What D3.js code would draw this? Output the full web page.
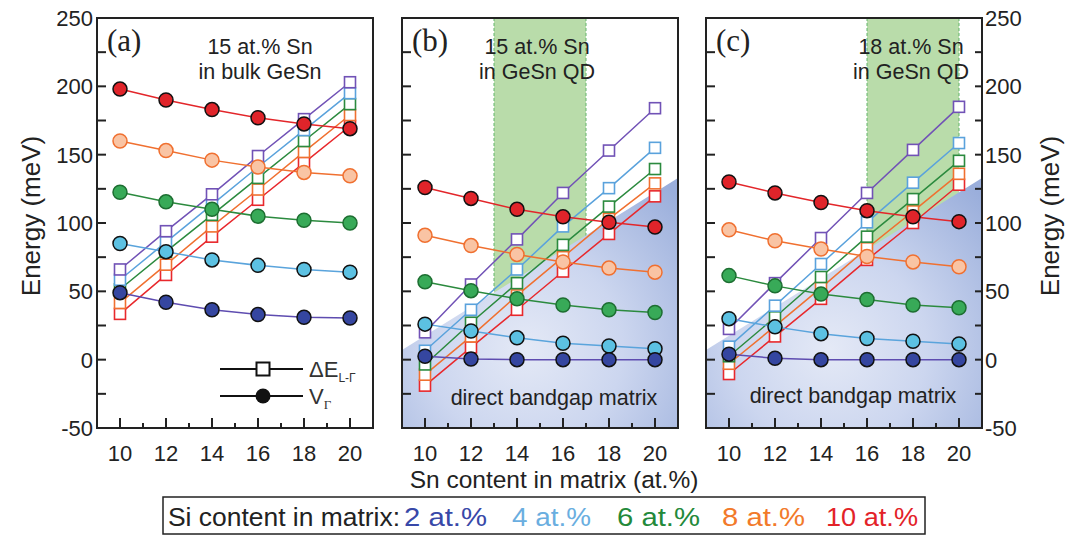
<!DOCTYPE html>
<html><head><meta charset="utf-8">
<script src="https://cdn.jsdelivr.net/npm/d3@7"></script>
<style>body{margin:0;background:#fff}svg{display:block}</style>
</head><body>
<svg id="chart" width="1079" height="535"></svg>
<script>
// Sn content in the matrix (at.%) – shared x values
const snContent = [10, 12, 14, 16, 18, 20];
const siLabels = ["2 at.%", "4 at.%", "6 at.%", "8 at.%", "10 at.%"];
const yTickValues = [-50, 0, 50, 100, 150, 200, 250];
const xTickValues = [10, 12, 14, 16, 18, 20];

// (a) 15 at.% Sn in bulk GeSn — rows: Si 2, 4, 6, 8, 10 at.%
const deltaBulk = [
  [66, 94, 121, 149, 176, 203],
  [58.5, 86, 113.5, 141, 168, 195],
  [51.5, 79, 106, 133, 160, 187],
  [41.5, 69.5, 97.5, 124.5, 152, 179],
  [33.5, 62, 90, 117, 144, 171]
];
const vGammaBulk = [
  [49, 42, 36.5, 33, 31, 30.5],
  [85, 79, 73, 69, 66, 64],
  [122.5, 115.5, 110, 105, 102, 100],
  [160, 153, 146, 141, 137, 134.5],
  [198, 190, 183, 177, 172.5, 169]
];

// (b) 15 at.% Sn in GeSn QD
const deltaQD15 = [
  [20, 55, 88, 122, 153, 184],
  [6.5, 36.5, 66, 97.5, 125.5, 155],
  [-3.5, 27, 56, 84, 112, 139.5],
  [-11, 17, 47, 75, 103, 129],
  [-19, 9, 36.5, 64.5, 92, 119.5]
];
const vGammaQD15 = [
  [2.5, 0.5, 0, 0, 0, 0],
  [26, 21, 16, 12, 10, 8],
  [57, 50.5, 44.5, 40, 36.5, 34.5],
  [91, 83.5, 77, 71.5, 67, 64],
  [126, 118, 110, 104.5, 100.5, 97]
];

// (c) 18 at.% Sn in GeSn QD
const deltaQD18 = [
  [22.5, 56, 89, 122, 153.5, 185],
  [9.5, 39.5, 70, 100.5, 129.5, 158.5],
  [2.5, 31, 60.5, 90, 117.5, 145.5],
  [-3, 24.5, 52.5, 81.5, 108.5, 136],
  [-10.5, 17, 44.5, 73, 100, 128]
];
const vGammaQD18 = [
  [4, 1, 0, 0, 0, 0],
  [30, 24, 19, 15.5, 13.5, 11.5],
  [61.5, 54, 48, 44, 40, 38],
  [95, 87, 81, 75.5, 71.5, 68],
  [130, 122, 115, 109, 104.5, 101]
];

// boundary of the direct-bandgap matrix region (Sn, meV)
const directEdgeSn = [9, 21];
const directEdgeE = [7, 133];
// Sn windows highlighted in green for the QD panels
const windowQD15 = [13, 17];
const windowQD18 = [16, 20];

const lineColors   = ["#5e4cb0", "#5aa4dc", "#2b8a3e", "#f07030", "#e3262a"];
const squareColors = ["#7152b6", "#5aa2dc", "#2b8a3e", "#f07030", "#e8282c"];
const circleFills  = ["#3546a0", "#5cc1e2", "#38aa58", "#f9c4a4", "#e0242a"];
const circleStroke = ["#111", "#111", "#1d6e31", "#f07030", "#111"];
const legendColors = ["#3848a8", "#6aaee0", "#23893a", "#f27a2a", "#e32228"];

const svg = d3.select("#chart");
const font = "'Liberation Sans', Arial, sans-serif";
const plotTop = 18, plotBottom = 428, pw = 276;

const y = d3.scaleLinear().domain([-50, 250]).range([plotBottom, plotTop]);

const panels = [
  { x0: 97, tag: "(a)", delta: deltaBulk, v: vGammaBulk, note: ["15 at.% Sn", "in bulk GeSn"], noteX: 260,
    window: null, direct: false, leftLabels: true, rightAxis: false, legend: true },
  { x0: 402, tag: "(b)", delta: deltaQD15, v: vGammaQD15, note: ["15 at.% Sn", "in GeSn QD"], noteX: 537,
    window: windowQD15, direct: true, directX: 554, directY: 405 },
  { x0: 706, tag: "(c)", delta: deltaQD18, v: vGammaQD18, note: ["18 at.% Sn", "in GeSn QD"], noteX: 911,
    window: windowQD18, direct: true, directX: 853, directY: 403, rightAxis: true }
];

const defs = svg.append("defs");

panels.forEach((p, pi) => {
  const x = d3.scaleLinear().domain([9, 21]).range([p.x0, p.x0 + pw]);
  const g = svg.append("g");

  defs.append("clipPath").attr("id", "clip" + pi)
    .append("rect").attr("x", p.x0).attr("y", plotTop).attr("width", pw).attr("height", plotBottom - plotTop);
  const plot = g.append("g").attr("clip-path", `url(#clip${pi})`);

  if (p.window) {
    plot.append("rect")
      .attr("x", x(p.window[0])).attr("y", plotTop)
      .attr("width", x(p.window[1]) - x(p.window[0])).attr("height", plotBottom - plotTop)
      .attr("fill", "#b9dcaa");
    p.window.forEach(s => plot.append("line")
      .attr("x1", x(s)).attr("x2", x(s)).attr("y1", plotTop).attr("y2", plotBottom)
      .attr("stroke", "#62b56a").attr("stroke-width", 1).attr("stroke-dasharray", "3,2"));
  }

  if (p.direct) {
    const grad = defs.append("radialGradient").attr("id", "blue" + pi)
      .attr("gradientUnits", "userSpaceOnUse")
      .attr("cx", x(14.4)).attr("cy", y(8)).attr("r", 215);
    grad.append("stop").attr("offset", 0).attr("stop-color", "#e4e9f6");
    grad.append("stop").attr("offset", 0.45).attr("stop-color", "#ccd6ef");
    grad.append("stop").attr("offset", 1).attr("stop-color", "#9aaedb");
    const pts = [
      [directEdgeSn[0], directEdgeE[0]], [directEdgeSn[1], directEdgeE[1]],
      [directEdgeSn[1], -50], [directEdgeSn[0], -50]
    ];
    plot.append("path")
      .attr("d", d3.line().x(d => x(d[0])).y(d => y(d[1]))(pts) + "Z")
      .attr("fill", `url(#blue${pi})`);
    g.append("text").attr("x", p.directX).attr("y", p.directY)
      .attr("text-anchor", "middle").attr("font-family", font).attr("font-size", 21.5)
      .attr("fill", "#222").text("direct bandgap matrix");
  }

  // panel tag and composition note
  g.append("text").attr("x", p.x0 + 10).attr("y", 51)
    .attr("font-family", "'Liberation Serif', 'Times New Roman', serif").attr("font-size", 31)
    .attr("fill", "#222").text(p.tag);
  p.note.forEach((t, i) => g.append("text").attr("x", p.noteX).attr("y", 54 + i * 25)
    .attr("text-anchor", "middle").attr("font-family", font).attr("font-size", 21.5)
    .attr("fill", "#222").text(t));

  const line = d3.line().x((d, i) => x(snContent[i])).y(d => y(d));

  // ΔE(L-Γ): lines and open squares
  for (let s = 4; s >= 0; s--) {
    plot.append("path").attr("d", line(p.delta[s])).attr("fill", "none")
      .attr("stroke", squareColors[s]).attr("stroke-width", 1.5);
  }
  for (let s = 4; s >= 0; s--) {
    plot.selectAll(null).data(p.delta[s]).enter().append("rect")
      .attr("x", (d, i) => x(snContent[i]) - 5.5).attr("y", d => y(d) - 5.5)
      .attr("width", 11).attr("height", 11)
      .attr("fill", "#fff").attr("stroke", squareColors[s]).attr("stroke-width", 1.6);
  }
  // V_Γ: lines and filled circles
  for (let s = 4; s >= 0; s--) {
    plot.append("path").attr("d", line(p.v[s])).attr("fill", "none")
      .attr("stroke", lineColors[s]).attr("stroke-width", 1.5);
  }
  for (let s = 4; s >= 0; s--) {
    plot.selectAll(null).data(p.v[s]).enter().append("circle")
      .attr("cx", (d, i) => x(snContent[i])).attr("cy", d => y(d)).attr("r", 7)
      .attr("fill", circleFills[s]).attr("stroke", circleStroke[s]).attr("stroke-width", 1.5);
  }

  // frame
  g.append("rect").attr("x", p.x0).attr("y", plotTop).attr("width", pw).attr("height", plotBottom - plotTop)
    .attr("fill", "none").attr("stroke", "#222").attr("stroke-width", 2);

  // inward ticks, left side, every 25 meV
  const yMinor = d3.range(-25, 250, 25);
  g.selectAll(null).data(yMinor).enter().append("line")
    .attr("x1", p.x0).attr("x2", p.x0 + 9).attr("y1", d => y(d)).attr("y2", d => y(d))
    .attr("stroke", "#222").attr("stroke-width", 2);
  if (p.rightAxis) {
    g.selectAll(null).data(yMinor).enter().append("line")
      .attr("x1", p.x0 + pw - 7).attr("x2", p.x0 + pw).attr("y1", d => y(d)).attr("y2", d => y(d))
      .attr("stroke", "#222").attr("stroke-width", 2);
    g.selectAll(null).data(yTickValues).enter().append("text")
      .attr("x", p.x0 + pw + 3).attr("y", d => y(d) + 8)
      .attr("font-family", font).attr("font-size", 22).attr("fill", "#222").text(d => d);
  }
  if (p.leftLabels) {
    g.selectAll(null).data(yTickValues).enter().append("text")
      .attr("x", p.x0 - 4).attr("y", d => y(d) + 8).attr("text-anchor", "end")
      .attr("font-family", font).attr("font-size", 22).attr("fill", "#222").text(d => d);
  }
  // bottom ticks: even majors, odd minors
  g.selectAll(null).data(d3.range(10, 21)).enter().append("line")
    .attr("x1", d => x(d)).attr("x2", d => x(d))
    .attr("y1", plotBottom).attr("y2", d => plotBottom - (d % 2 === 0 ? 10 : 5))
    .attr("stroke", "#222").attr("stroke-width", 2);
  g.selectAll(null).data(xTickValues).enter().append("text")
    .attr("x", d => x(d)).attr("y", 461).attr("text-anchor", "middle")
    .attr("font-family", font).attr("font-size", 22).attr("fill", "#222").text(d => d);

  if (p.legend) {
    const lx = 263;
    const lg = g.append("g");
    [369, 396].forEach(ly => lg.append("line").attr("x1", 220).attr("x2", 303)
      .attr("y1", ly).attr("y2", ly).attr("stroke", "#111").attr("stroke-width", 1.8));
    lg.append("rect").attr("x", lx - 6.5).attr("y", 369 - 6.5).attr("width", 13).attr("height", 13)
      .attr("fill", "#fff").attr("stroke", "#111").attr("stroke-width", 2);
    lg.append("circle").attr("cx", lx).attr("cy", 396).attr("r", 7.5).attr("fill", "#111");
    const t1 = lg.append("text").attr("x", 309).attr("y", 377)
      .attr("font-family", font).attr("font-size", 22).attr("fill", "#333");
    t1.append("tspan").text("\u0394E");
    t1.append("tspan").attr("dy", 5).attr("font-size", 12).text("L-\u0393");
    const t2 = lg.append("text").attr("x", 309).attr("y", 404)
      .attr("font-family", font).attr("font-size", 22).attr("fill", "#333");
    t2.append("tspan").text("V");
    t2.append("tspan").attr("dy", 5).attr("font-size", 13)
      .attr("font-family", "'Liberation Serif', serif").text("\u0393");
  }
});

// axis titles
svg.append("text").attr("transform", "translate(40,216) rotate(-90)")
  .attr("text-anchor", "middle").attr("font-family", font).attr("font-size", 26)
  .attr("fill", "#222").text("Energy (meV)");
svg.append("text").attr("transform", "translate(1059,216) rotate(-90)")
  .attr("text-anchor", "middle").attr("font-family", font).attr("font-size", 26)
  .attr("fill", "#222").text("Energy (meV)");
svg.append("text").attr("x", 554).attr("y", 488).attr("text-anchor", "middle")
  .attr("font-family", font).attr("font-size", 24.5).attr("fill", "#222")
  .text("Sn content in matrix (at.%)");

// Si content legend box
svg.append("rect").attr("x", 163).attr("y", 497).attr("width", 762).attr("height", 37)
  .attr("fill", "#fff").attr("stroke", "#222").attr("stroke-width", 1.5);
svg.append("text").attr("x", 168).attr("y", 526)
  .attr("font-family", font).attr("font-size", 26).attr("fill", "#222")
  .attr("textLength", 232).attr("lengthAdjust", "spacingAndGlyphs")
  .text("Si content in matrix:");
const legendX = [404, 512, 617, 722, 826];
const legendW = [83, 79, 83, 83, 92];
siLabels.forEach((t, i) => svg.append("text").attr("x", legendX[i]).attr("y", 526)
  .attr("font-family", font).attr("font-size", 26).attr("fill", legendColors[i])
  .attr("textLength", legendW[i]).attr("lengthAdjust", "spacingAndGlyphs").text(t));
</script>
</body></html>
